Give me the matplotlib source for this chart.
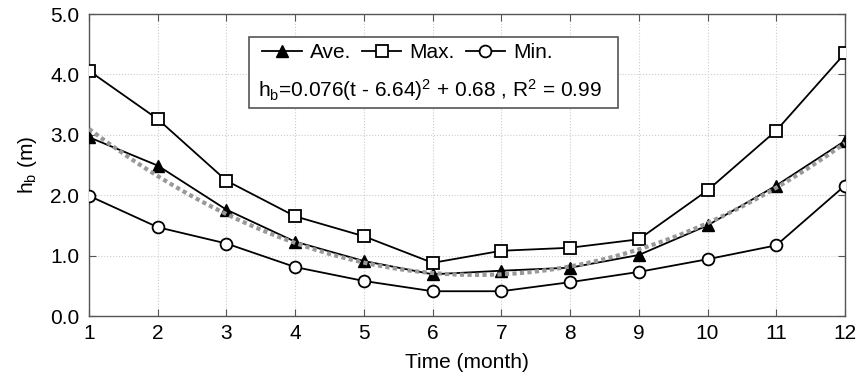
import numpy as np
import matplotlib
matplotlib.use("Agg")
import matplotlib.pyplot as plt
from matplotlib.patches import Rectangle
from matplotlib.lines import Line2D

plt.rcParams['font.family'] = ['Liberation Sans', 'DejaVu Sans']
plt.rcParams['mathtext.default'] = 'regular'

months = [1, 2, 3, 4, 5, 6, 7, 8, 9, 10, 11, 12]
h_ave = [2.96, 2.49, 1.76, 1.23, 0.91, 0.69, 0.75, 0.80, 1.01, 1.50, 2.16, 2.90]
h_max = [4.06, 3.26, 2.24, 1.65, 1.32, 0.88, 1.08, 1.13, 1.27, 2.08, 3.07, 4.35]
h_min = [1.99, 1.47, 1.20, 0.81, 0.58, 0.41, 0.41, 0.56, 0.73, 0.94, 1.17, 2.16]
fit_a, fit_t0, fit_c = 0.076, 6.64, 0.68
yticks = [0.0, 1.0, 2.0, 3.0, 4.0, 5.0]

FS = 15
fig = plt.figure(figsize=(8.59, 3.83), dpi=100)
ax = fig.add_axes([89/859, 1-316/383, 756/859, 302/383])

t = np.linspace(1, 12, 200)
ax.plot(t, fit_a*(t-fit_t0)**2 + fit_c, color='#999999', lw=3, ls=(0, (1, 0.8)), zorder=4)

ax.plot(months, h_max, color='black', lw=1.3, marker='s', ms=8.5, mfc='white', mec='black', mew=1.3, zorder=3)
ax.plot(months, h_ave, color='black', lw=1.3, marker='^', ms=9, mfc='black', mec='black', zorder=3)
ax.plot(months, h_min, color='black', lw=1.3, marker='o', ms=8.5, mfc='white', mec='black', mew=1.3, zorder=3)

ax.set_xlim(1, 12)
ax.set_ylim(0, 5)
ax.set_xticks(months)
ax.set_yticks(yticks)
ax.set_yticklabels([f'{v:.1f}' for v in yticks])
ax.grid(True, color='#cccccc', ls=':', lw=0.8)
ax.tick_params(direction='in', length=5, labelsize=FS, color='#555555', top=True, right=True)
ax.tick_params(axis='x', pad=6)
ax.tick_params(axis='y', pad=7)
for s in ax.spines.values():
    s.set_color('#555555')
    s.set_linewidth(1.0)
ax.set_xlabel('Time (month)', fontsize=FS, labelpad=7)
ax.set_ylabel('h$_\\mathregular{b}$ (m)', fontsize=FS, labelpad=8)

# legend box
rect = Rectangle((0.212, 0.689), 0.488, 0.235, transform=ax.transAxes, fill=True,
                 facecolor='white', edgecolor='#555555', lw=1.2, zorder=6)
ax.add_patch(rect)
handles = [Line2D([], [], color='black', lw=1.3, marker='^', ms=9, mfc='black'),
           Line2D([], [], color='black', lw=1.3, marker='s', ms=8.5, mfc='white', mew=1.3),
           Line2D([], [], color='black', lw=1.3, marker='o', ms=8.5, mfc='white', mew=1.3)]
leg = ax.legend(handles, ['Ave.', 'Max.', 'Min.'], ncol=3, frameon=False, fontsize=FS,
                loc='center left', bbox_to_anchor=(0.229, 0.871), handlelength=1.9,
                columnspacing=0.5, handletextpad=0.4, borderpad=0, borderaxespad=0)
leg.set_zorder(7)
ax.text(0.224, 0.748, 'h$_\\mathregular{b}$=0.076(t - 6.64)$^\\mathregular{2}$ + 0.68 , R$^\\mathregular{2}$ = 0.99',
        transform=ax.transAxes, fontsize=FS, va='center', ha='left', zorder=8)

fig.savefig('out.png', dpi=100)
